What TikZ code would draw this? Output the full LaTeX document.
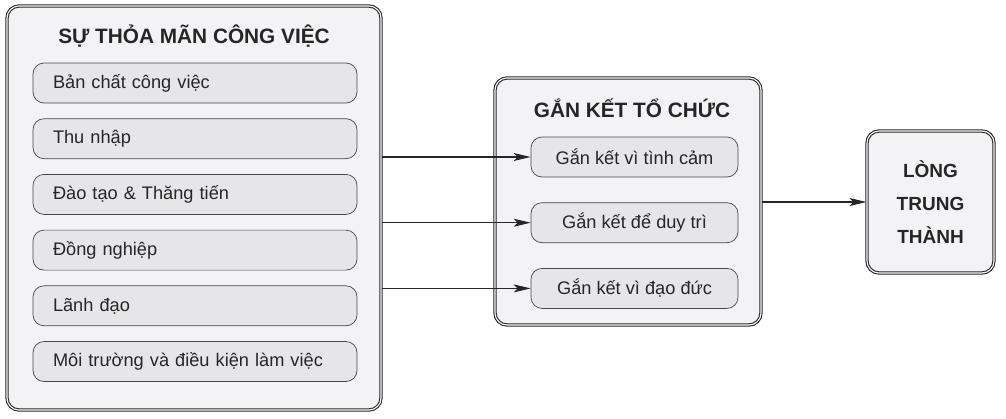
\documentclass[tikz,border=0pt]{standalone}
\usepackage{fontspec}
\setmainfont{Liberation Sans}
\usetikzlibrary{positioning,arrows.meta}
\definecolor{panelgray}{HTML}{F3F3F5}
\definecolor{itemgray}{HTML}{E6E6E8}
\definecolor{inkgray}{HTML}{262626}

\begin{document}
\begin{tikzpicture}[x=1pt,y=1pt,>={Stealth[length=17pt,width=8pt,inset=4pt]},node distance=15pt,
    outer box/.style={draw=inkgray,double=white,double distance=1.1pt,line width=1.1pt,fill=panelgray,rounded corners=12pt},
    item box/.style={draw=inkgray!85,line width=0.7pt,fill=itemgray,rounded corners=11pt,minimum height=40pt,font=\fontsize{18.2}{22}\selectfont,text=inkgray},
    head text/.style={font=\bfseries\fontsize{20.8}{25}\selectfont,text=inkgray},
    link/.style={->,draw=inkgray,line width=1.4pt}]

    \useasboundingbox (0,0) rectangle (1006,-418);

    % left panel
    \node[outer box,minimum width=374pt,minimum height=404pt] (sat) at (194,-208) {};
    \node[head text] (satT) at (194,-36) {SỰ THỎA MÃN CÔNG VIỆC};
    \node[item box,text width=284pt,inner xsep=20pt,align=left] (s1) at (195,-83) {Bản chất công việc};
    \node[item box,text width=284pt,inner xsep=20pt,align=left] (s2)[below=of s1] {Thu nhập};
    \node[item box,text width=284pt,inner xsep=20pt,align=left] (s3)[below=of s2] {Đào tạo \& Thăng tiến};
    \node[item box,text width=284pt,inner xsep=20pt,align=left] (s4)[below=of s3] {Đồng nghiệp};
    \node[item box,text width=284pt,inner xsep=20pt,align=left] (s5)[below=of s4] {Lãnh đạo};
    \node[item box,text width=284pt,inner xsep=20pt,align=left] (s6)[below=of s5] {Môi trường và điều kiện làm việc};

    % middle panel
    \node[outer box,minimum width=266pt,minimum height=247pt] (org) at (628,-201.5) {};
    \node[head text] (orgT) at (632,-108) {GẮN KẾT TỔ CHỨC};
    \node[item box,minimum width=207pt] (o1) at (634.5,-157) {Gắn kết vì tình cảm};
    \node[item box,minimum width=207pt] (o2)[below=25pt of o1] {Gắn kết để duy trì};
    \node[item box,minimum width=207pt] (o3)[below=25pt of o2] {Gắn kết vì đạo đức};

    % right box
    \node[outer box,minimum width=127pt,minimum height=142pt,align=center,
          font=\bfseries\fontsize{19}{33}\selectfont,text=inkgray] (loyal) at (930.5,-202) {LÒNG\\TRUNG\\THÀNH};

    \draw[link] (sat.east |- o1.west) -- (o1.west);
    \draw[link] (sat.east |- o2.west) -- (o2.west);
    \draw[link] (sat.east |- o3.west) -- (o3.west);
    \draw[link] (org.east |- loyal.west) -- (loyal.west);
\end{tikzpicture}
\end{document}
